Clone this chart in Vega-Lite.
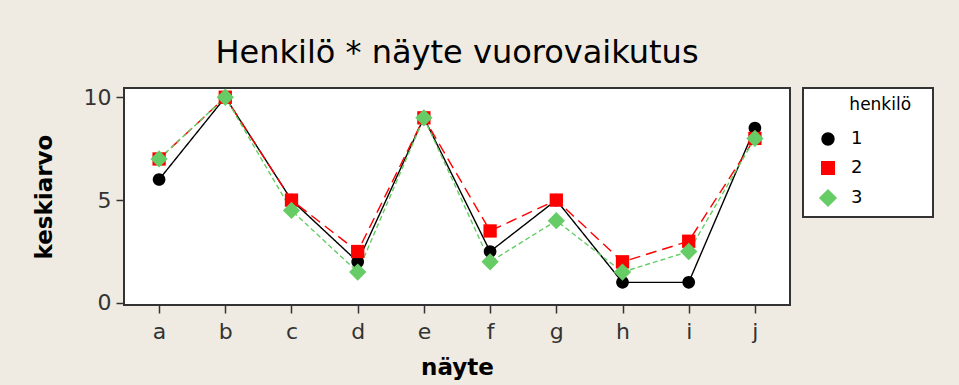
{
  "$schema": "https://vega.github.io/schema/vega-lite/v6.json",
  "width": 666,
  "height": 217,
  "autosize": {"type": "none"},
  "padding": {"left": 124, "top": 88, "right": 169, "bottom": 80},
  "background": "#EFEBE2",
  "title": {
    "text": "Henkilö * näyte vuorovaikutus",
    "font": "DejaVu Sans",
    "fontSize": 32,
    "fontWeight": "normal",
    "color": "#000000",
    "anchor": "middle",
    "offset": 16
  },
  "data": {
    "values": [
      {"nayte": "a", "henkilo": "1", "keskiarvo": 6},
      {"nayte": "b", "henkilo": "1", "keskiarvo": 10},
      {"nayte": "c", "henkilo": "1", "keskiarvo": 5},
      {"nayte": "d", "henkilo": "1", "keskiarvo": 2},
      {"nayte": "e", "henkilo": "1", "keskiarvo": 9},
      {"nayte": "f", "henkilo": "1", "keskiarvo": 2.5},
      {"nayte": "g", "henkilo": "1", "keskiarvo": 5},
      {"nayte": "h", "henkilo": "1", "keskiarvo": 1},
      {"nayte": "i", "henkilo": "1", "keskiarvo": 1},
      {"nayte": "j", "henkilo": "1", "keskiarvo": 8.5},
      {"nayte": "a", "henkilo": "2", "keskiarvo": 7},
      {"nayte": "b", "henkilo": "2", "keskiarvo": 10},
      {"nayte": "c", "henkilo": "2", "keskiarvo": 5},
      {"nayte": "d", "henkilo": "2", "keskiarvo": 2.5},
      {"nayte": "e", "henkilo": "2", "keskiarvo": 9},
      {"nayte": "f", "henkilo": "2", "keskiarvo": 3.5},
      {"nayte": "g", "henkilo": "2", "keskiarvo": 5},
      {"nayte": "h", "henkilo": "2", "keskiarvo": 2},
      {"nayte": "i", "henkilo": "2", "keskiarvo": 3},
      {"nayte": "j", "henkilo": "2", "keskiarvo": 8},
      {"nayte": "a", "henkilo": "3", "keskiarvo": 7},
      {"nayte": "b", "henkilo": "3", "keskiarvo": 10},
      {"nayte": "c", "henkilo": "3", "keskiarvo": 4.5},
      {"nayte": "d", "henkilo": "3", "keskiarvo": 1.5},
      {"nayte": "e", "henkilo": "3", "keskiarvo": 9},
      {"nayte": "f", "henkilo": "3", "keskiarvo": 2},
      {"nayte": "g", "henkilo": "3", "keskiarvo": 4},
      {"nayte": "h", "henkilo": "3", "keskiarvo": 1.5},
      {"nayte": "i", "henkilo": "3", "keskiarvo": 2.5},
      {"nayte": "j", "henkilo": "3", "keskiarvo": 8}
    ]
  },
  "encoding": {
    "x": {
      "field": "nayte",
      "type": "ordinal",
      "title": "näyte",
      "scale": {"type": "point", "padding": 0.53},
      "axis": {"labelAngle": 0, "titlePadding": 14, "labelPadding": 8}
    },
    "y": {
      "field": "keskiarvo",
      "type": "quantitative",
      "title": "keskiarvo",
      "scale": {"domain": [-0.1, 10.45], "nice": false, "zero": false},
      "axis": {"values": [0, 5, 10], "titlePadding": 27}
    },
    "color": {
      "field": "henkilo",
      "type": "nominal",
      "title": "\u2800\u2800\u2800henkilö\u2800",
      "scale": {"domain": ["1", "2", "3"], "range": ["#000000", "#FF0000", "#66CC66"]},
      "legend": {
        "orient": "none",
        "legendX": 679,
        "legendY": 0,
        "fillColor": "#FFFFFF",
        "strokeColor": "#333333",
        "padding": 9,
        "titleFont": "DejaVu Sans",
        "titleFontSize": 17,
        "titleFontWeight": "normal",
        "titleColor": "#000000",
        "titlePadding": 16,
        "labelFont": "DejaVu Sans",
        "labelFontSize": 18,
        "labelColor": "#000000",
        "labelOffset": 14,
        "symbolSize": 196,
        "symbolOffset": 7,
        "symbolStrokeWidth": 0,
        "rowPadding": 11
      }
    }
  },
  "layer": [
    {
      "mark": {"type": "line", "strokeWidth": 1.4},
      "encoding": {
        "strokeDash": {
          "field": "henkilo",
          "type": "nominal",
          "scale": {"domain": ["1", "2", "3"], "range": [[1, 0], [11, 6], [5, 3]]},
          "legend": null
        }
      }
    },
    {
      "mark": {"type": "point", "filled": true, "opacity": 1, "size": 177},
      "encoding": {
        "shape": {
          "field": "henkilo",
          "type": "nominal",
          "title": "\u2800\u2800\u2800henkilö\u2800",
          "scale": {
            "domain": ["1", "2", "3"],
            "range": [
              "M-0.95,0A0.95,0.95 0 1,0 0.95,0A0.95,0.95 0 1,0 -0.95,0Z",
              "square",
              "M-1.3,0L0,-1.3L1.3,0L0,1.3Z"
            ]
          }
        }
      }
    }
  ],
  "config": {
    "view": {"fill": "#FFFFFF", "stroke": "#333333", "strokeWidth": 2},
    "axis": {
      "domain": false,
      "grid": false,
      "labelFont": "DejaVu Sans",
      "labelFontSize": 22,
      "labelColor": "#333333",
      "tickColor": "#333333",
      "tickSize": 8,
      "tickWidth": 1.5,
      "labelPadding": 5,
      "titleFont": "DejaVu Sans",
      "titleFontSize": 23,
      "titleFontWeight": "bold",
      "titleColor": "#000000"
    },
    "legend": {
      "strokeWidth": 2
    }
  }
}
